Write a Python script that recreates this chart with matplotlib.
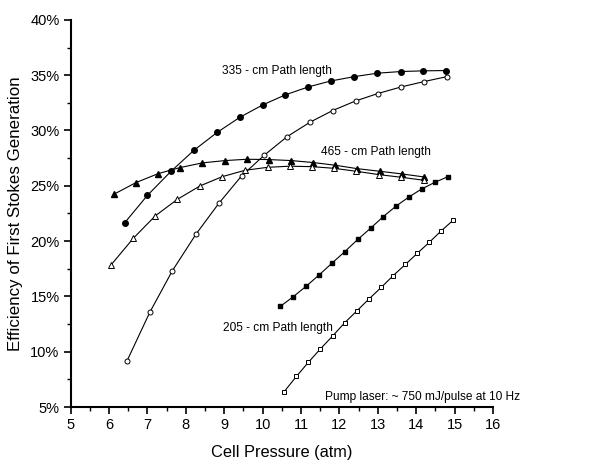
import matplotlib
matplotlib.use("Agg")
import matplotlib.pyplot as plt
from matplotlib.ticker import MultipleLocator, FuncFormatter

plt.rcParams['font.family'] = ['Liberation Sans', 'DejaVu Sans']

# 335-cm path length (filled circles, open circles)
p335a = [6.41, 7.00, 7.61, 8.21, 8.82, 9.41, 10.00, 10.59, 11.19, 11.78, 12.39, 12.99, 13.60, 14.18, 14.78]
e335a = [21.67, 24.14, 26.3, 28.21, 29.84, 31.20, 32.31, 33.22, 33.94, 34.48, 34.87, 35.18, 35.33, 35.39, 35.42]
p335b = [6.47, 7.06, 7.65, 8.26, 8.86, 9.45, 10.04, 10.64, 11.23, 11.82, 12.42, 13.00, 13.61, 14.20, 14.80]
e335b = [9.19, 13.56, 17.33, 20.61, 23.42, 25.89, 27.76, 29.45, 30.74, 31.80, 32.67, 33.34, 33.94, 34.42, 34.87]

# 465-cm path length (filled triangles, open triangles)
p465a = [6.14, 6.70, 7.28, 7.84, 8.43, 9.02, 9.59, 10.16, 10.75, 11.32, 11.89, 12.46, 13.06, 13.63, 14.20]
e465a = [24.26, 25.29, 26.10, 26.64, 27.07, 27.28, 27.40, 27.37, 27.28, 27.10, 26.86, 26.55, 26.31, 26.07, 25.80]
p465b = [6.05, 6.63, 7.20, 7.78, 8.37, 8.95, 9.54, 10.13, 10.70, 11.29, 11.86, 12.44, 13.03, 13.61, 14.20]
e465b = [17.84, 20.25, 22.27, 23.78, 24.99, 25.83, 26.40, 26.67, 26.77, 26.73, 26.58, 26.31, 26.01, 25.77, 25.50]

# 205-cm path length (filled squares, open squares)
p205a = [10.46, 10.80, 11.14, 11.47, 11.81, 12.14, 12.48, 12.81, 13.14, 13.47, 13.81, 14.14, 14.49, 14.83]
e205a = [14.10, 14.98, 15.94, 16.94, 18.02, 19.05, 20.16, 21.16, 22.21, 23.15, 23.99, 24.71, 25.32, 25.83]
p205b = [10.56, 10.88, 11.19, 11.50, 11.83, 12.14, 12.46, 12.77, 13.09, 13.40, 13.72, 14.03, 14.34, 14.65, 14.97]
e205b = [6.39, 7.77, 9.04, 10.24, 11.45, 12.63, 13.71, 14.77, 15.82, 16.88, 17.90, 18.90, 19.89, 20.92, 21.91]

labels = ["335 - cm Path length", "465 - cm Path length", "205 - cm Path length",
          "Pump laser: ~ 750 mJ/pulse at 10 Hz"]

fig = plt.figure(figsize=(5.94, 4.62), dpi=100)
ax = fig.add_axes([0.119, 0.119, 0.711, 0.838])

lw = 0.8
mew = 0.7
ax.plot(p335a, e335a, '-', color='black', lw=lw, marker='o', ms=4, mfc='black', mec='black')
ax.plot(p335b, e335b, '-', color='black', lw=lw, marker='o', ms=3.6, mfc='white', mec='black', mew=mew)
ax.plot(p465a, e465a, '-', color='black', lw=lw, marker='^', ms=4, mfc='black', mec='black')
ax.plot(p465b, e465b, '-', color='black', lw=lw, marker='^', ms=3.8, mfc='white', mec='black', mew=mew)
ax.plot(p205a, e205a, '-', color='black', lw=lw, marker='s', ms=3.5, mfc='black', mec='black')
ax.plot(p205b, e205b, '-', color='black', lw=lw, marker='s', ms=3.4, mfc='white', mec='black', mew=mew)

ax.text(8.93, 35.42, labels[0], fontsize=8.6, ha='left', va='center')
ax.text(11.53, 28.06, labels[1], fontsize=8.6, ha='left', va='center')
ax.text(8.97, 12.1, labels[2], fontsize=8.6, ha='left', va='center')
ax.text(11.62, 5.93, labels[3], fontsize=8.6, ha='left', va='center', clip_on=False)

ax.set_xlim(5, 16)
ax.set_ylim(5, 40)
ax.xaxis.set_major_locator(MultipleLocator(1))
ax.xaxis.set_minor_locator(MultipleLocator(0.5))
ax.yaxis.set_major_locator(MultipleLocator(5))
ax.yaxis.set_minor_locator(MultipleLocator(2.5))
ax.yaxis.set_major_formatter(FuncFormatter(lambda v, p: f"{v:.0f}%"))

for s in ['top', 'right']:
    ax.spines[s].set_visible(False)
for s in ['left', 'bottom']:
    ax.spines[s].set_linewidth(1.5)

ax.tick_params(which='major', direction='out', length=5, width=1.2, labelsize=10.5, pad=3)
ax.tick_params(which='minor', direction='out', length=3, width=1.0)

ax.set_xlabel("Cell Pressure (atm)", fontsize=11.8, labelpad=9)
ax.set_ylabel("Efficiency of First Stokes Generation", fontsize=12.2, labelpad=5)

fig.savefig("out.png", dpi=100)
